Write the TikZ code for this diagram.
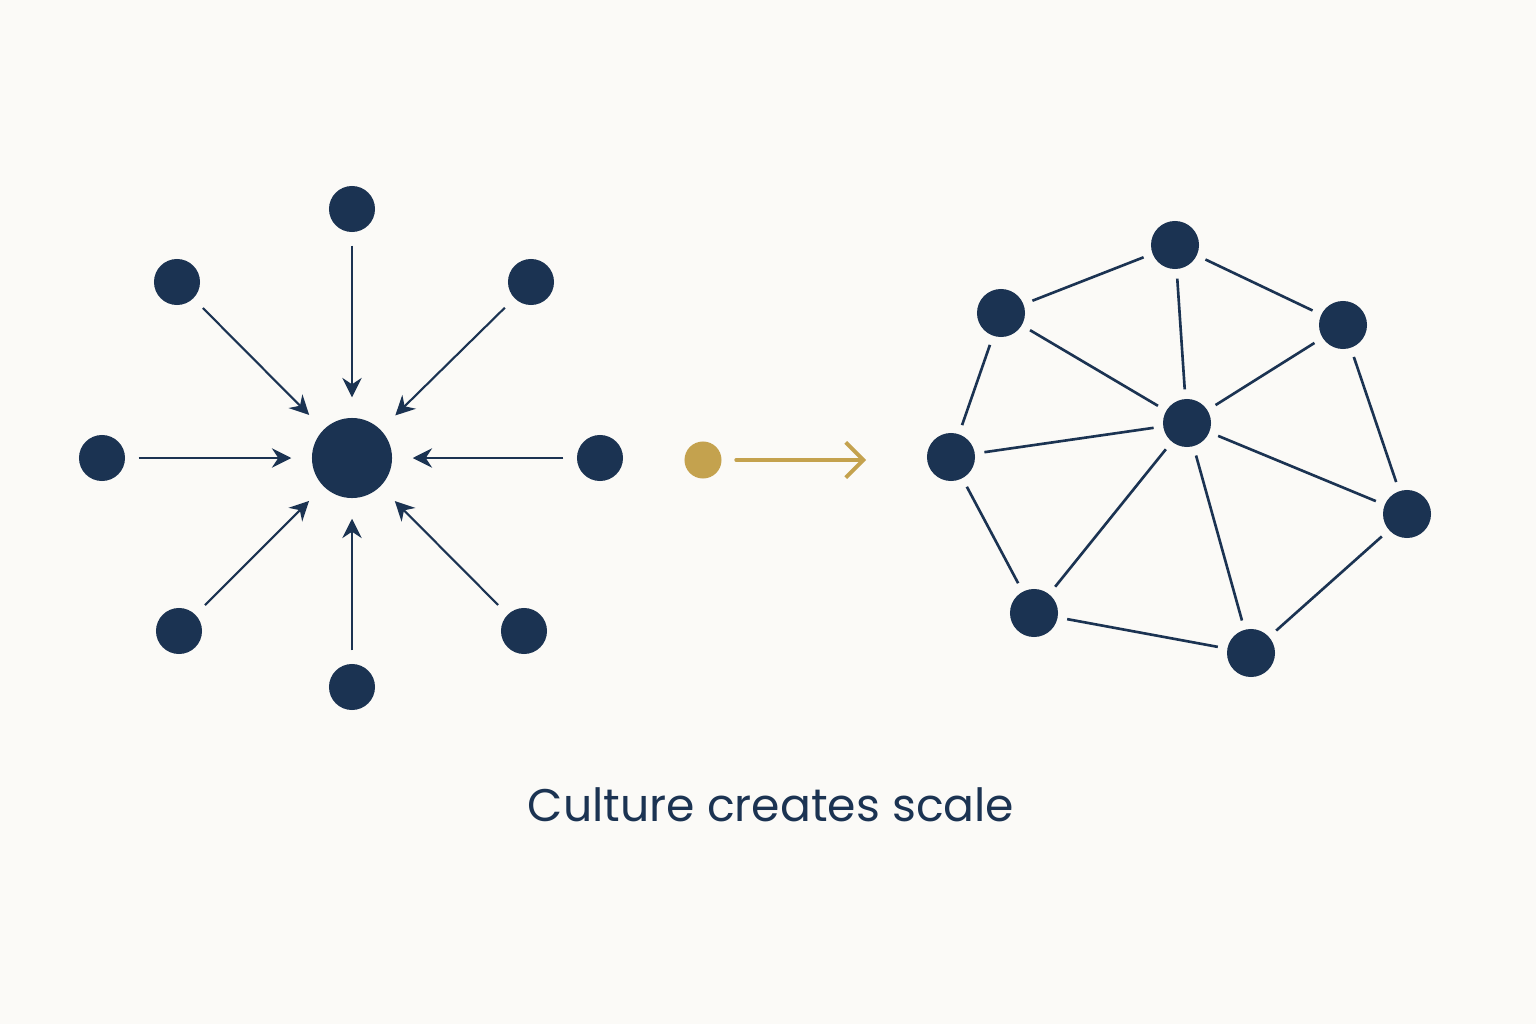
\documentclass[tikz,border=0pt]{standalone}
\usepackage{fontspec}
\setmainfont{Poppins}
\usetikzlibrary{arrows.meta}
\definecolor{navy}{HTML}{1B3352}
\definecolor{gold}{HTML}{C4A24E}
\definecolor{bg}{HTML}{FBFAF7}
\begin{document}
\begin{tikzpicture}[x=0.01cm,y=-0.01cm,
  sdot/.style={circle,fill=navy,inner sep=0pt,minimum size=0.46cm},
  ndot/.style={circle,fill=navy,inner sep=0pt,minimum size=0.48cm},
  hub/.style={circle,fill=navy,inner sep=0pt,minimum size=0.80cm},
  inarrow/.style={draw=navy,line width=0.6pt,-{Stealth[length=5.5pt,width=5.5pt,inset=1.8pt]},shorten <=0.13cm,shorten >=0.2cm},
  link/.style={draw=navy,line width=0.75pt,shorten <=0.09cm,shorten >=0.09cm}]
\fill[bg] (0,0) rectangle (1536,1024);
\useasboundingbox (0,0) rectangle (1536,1024);
% left star
\node[hub] (c) at (352,458) {};
\node[sdot] (n) at (352,209) {};
\node[sdot] (nw) at (177,282) {};
\node[sdot] (ne) at (531,282) {};
\node[sdot] (w) at (102,458) {};
\node[sdot] (e) at (600,458) {};
\node[sdot] (sw) at (179,631) {};
\node[sdot] (se) at (524,631) {};
\node[sdot] (s) at (352,687) {};
\foreach \o in {n,nw,ne,w,e,sw,se,s}
  \draw[inarrow] (\o) -- (c);
% gold
\node[circle,fill=gold,inner sep=0pt,minimum size=0.37cm] (g) at (703,460) {};
\coordinate (gend) at (866,460);
\draw[gold,line width=1.1pt,line cap=round,-{Straight Barb[length=5pt,width=10pt,line width=1.1pt]},shorten <=0.14cm] (g) -- (gend);
% network
\node[ndot] (A) at (1175,245) {};
\node[ndot] (B) at (1001,313) {};
\node[ndot] (C) at (1343,325) {};
\node[ndot] (D) at (1187,423) {};
\node[ndot] (E) at (951,457) {};
\node[ndot] (F) at (1407,514) {};
\node[ndot] (G) at (1034,613) {};
\node[ndot] (H) at (1251,653) {};
\foreach \a/\b in {B/A,A/C,A/D,B/D,C/D,B/E,E/D,C/F,D/F,E/G,G/D,D/H,G/H,H/F}
  \draw[link] (\a) -- (\b);
% caption
\node[text=navy,font=\fontsize{13pt}{16pt}\selectfont] (cap) at (771,805) {Culture creates scale};
\end{tikzpicture}
\end{document}
